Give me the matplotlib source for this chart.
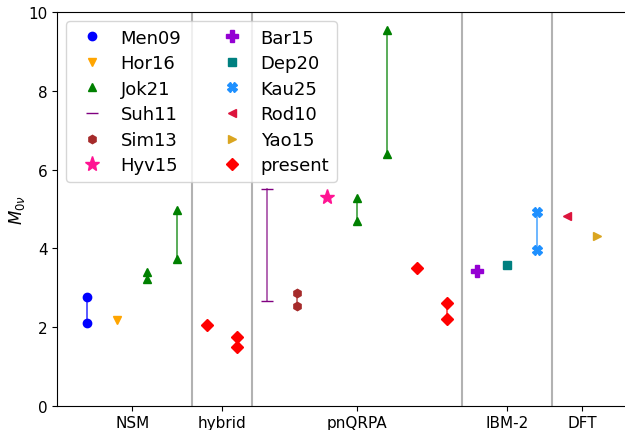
import matplotlib
matplotlib.use("Agg")
import matplotlib.pyplot as plt

# Nuclear matrix elements M_0nu by model family
groups = ["NSM", "hybrid", "pnQRPA", "IBM-2", "DFT"]
group_ticks = [2.5, 5.5, 10.0, 15.0, 17.5]
separators = [4.5, 6.5, 13.5, 16.5]

men09_x, men09_y = [1, 1], [2.77, 2.10]
hor16_x, hor16_y = [2], [2.17]
jok21_x = [[3, 3], [4, 4], [10, 10], [11, 11]]
jok21_y = [[3.41, 3.21], [4.98, 3.73], [5.28, 4.70], [9.56, 6.40]]
suh11_x, suh11_y = [7, 7], [5.51, 2.66]
sim13_x, sim13_y = [8, 8], [2.86, 2.54]
hyv15_x, hyv15_y = [9], [5.30]
bar15_x, bar15_y = [14], [3.43]
dep20_x, dep20_y = [15], [3.57]
kau25_x, kau25_y = [16, 16], [4.92, 3.97]
rod10_x, rod10_y = [17], [4.81]
yao15_x, yao15_y = [18], [4.32]
present_x = [[5], [6, 6], [12], [13, 13]]
present_y = [[2.06], [1.74, 1.48], [3.50], [2.60, 2.20]]

fig = plt.figure(figsize=(6.25, 4.31), dpi=100)
ax = fig.add_axes([57.3 / 625, (431 - 406.7) / 431, (627 - 57.3) / 625, 393.4 / 431])


def draw(xs, ys, marker, color, label=None, ms=6, lw=1.3):
    if len(xs) > 1:
        ax.plot(xs, ys, "-", color=color, alpha=0.7, lw=lw, zorder=2)
    ax.plot(xs, ys, linestyle="none", marker=marker, color=color, ms=ms,
            label=label, zorder=3)


draw(men09_x, men09_y, "o", "blue", "Men09")
draw(hor16_x, hor16_y, "v", "orange", "Hor16")
for i, (xs, ys) in enumerate(zip(jok21_x, jok21_y)):
    draw(xs, ys, "^", "green", "Jok21" if i == 0 else None)
draw(suh11_x, suh11_y, "_", "purple", "Suh11", ms=9, lw=1.2)
draw(sim13_x, sim13_y, "h", "brown", "Sim13")
draw(hyv15_x, hyv15_y, "*", "deeppink", "Hyv15", ms=11)
draw(bar15_x, bar15_y, "P", "darkviolet", "Bar15", ms=8)
draw(dep20_x, dep20_y, "s", "teal", "Dep20")
draw(kau25_x, kau25_y, "X", "dodgerblue", "Kau25", ms=7)
draw(rod10_x, rod10_y, "<", "crimson", "Rod10")
draw(yao15_x, yao15_y, ">", "goldenrod", "Yao15")
for i, (xs, ys) in enumerate(zip(present_x, present_y)):
    draw(xs, ys, "D", "red", "present" if i == 0 else None)

for s in separators:
    ax.axvline(s, color="gray", alpha=0.6, lw=1.5, zorder=1)

ax.set_xlim(0, 19)
ax.set_ylim(0, 10)
ax.set_xticks(group_ticks)
ax.set_xticklabels(groups)
ax.tick_params(labelsize=11)
ax.set_ylabel(r"$M_{0\nu}$", fontsize=12, labelpad=1)

ax.legend(loc="upper left", ncol=2, fontsize=13, handletextpad=0.6,
          columnspacing=1.8, labelspacing=0.42, borderaxespad=0.5)

fig.savefig("out.png", dpi=100)
